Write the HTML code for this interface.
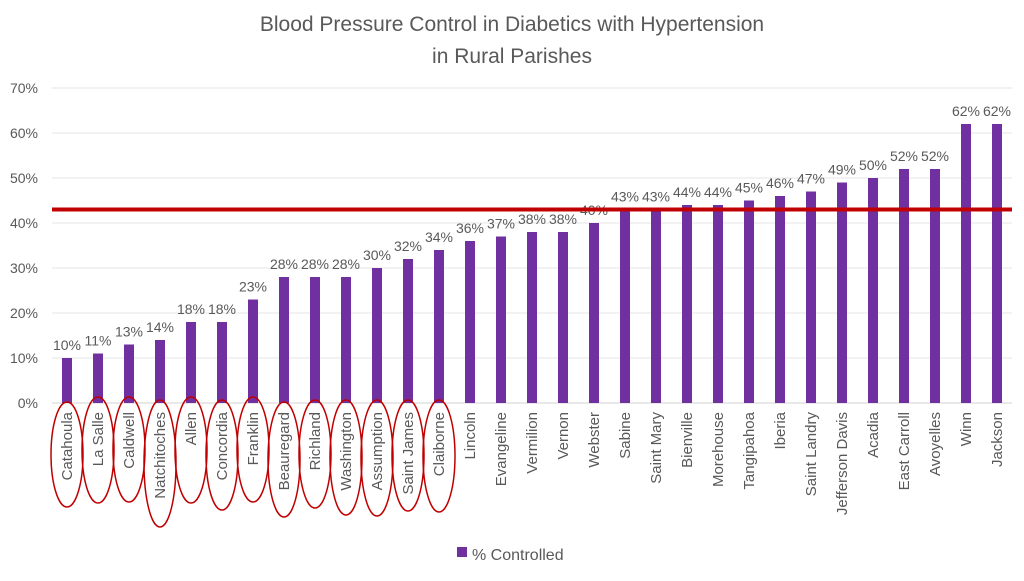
<!DOCTYPE html>
<html><head><meta charset="utf-8"><style>
body{margin:0;background:#fff;font-family:"Liberation Sans",sans-serif}
svg text{font-family:"Liberation Sans",sans-serif;fill:#595959}
</style></head><body>
<svg width="1024" height="576" id="c">
<text x="512" y="31" text-anchor="middle" font-size="21">Blood Pressure Control in Diabetics with Hypertension</text>
<text x="512" y="63" text-anchor="middle" font-size="21">in Rural Parishes</text>
<g id="grid"></g><g id="bars"></g><g id="ovals"></g>
<rect x="457" y="547" width="10" height="10" fill="#7030a0"/>
<text x="472" y="560" font-size="16">% Controlled</text>
</svg>
<script>
const categories=["Catahoula","La Salle","Caldwell","Natchitoches","Allen","Concordia","Franklin","Beauregard","Richland","Washington","Assumption","Saint James","Claiborne","Lincoln","Evangeline","Vermilion","Vernon","Webster","Sabine","Saint Mary","Bienville","Morehouse","Tangipahoa","Iberia","Saint Landry","Jefferson Davis","Acadia","East Carroll","Avoyelles","Winn","Jackson"];
const values=[10,11,13,14,18,18,23,28,28,28,30,32,34,36,37,38,38,40,43,43,44,44,45,46,47,49,50,52,52,62,62];
const yTicks=[0,10,20,30,40,50,60,70];
const target=[43];
const circled=[["Catahoula",402,507],["La Salle",397,503],["Caldwell",397,502],["Natchitoches",400,527],["Allen",397,503],["Concordia",400,510],["Franklin",397,502],["Beauregard",402,517],["Richland",400,508],["Washington",400,515],["Assumption",400,516],["Saint James",400,511],["Claiborne",400,512]];
const NS="http://www.w3.org/2000/svg";
const y=v=>403-v*4.5, x=i=>67+i*31;
function mk(t,a,p){const e=document.createElementNS(NS,t);for(const k in a)e.setAttribute(k,a[k]);p.appendChild(e);return e;}
const g=document.getElementById('grid'),b=document.getElementById('bars'),o=document.getElementById('ovals');
yTicks.forEach(v=>{
 const l=mk('line',{x1:52,x2:1012,y1:y(v),y2:y(v),stroke:v?'#e6e6e6':'#d0d0d0'},g);
 
 
 const t=mk('text',{x:38,y:y(v)+5,'text-anchor':'end','font-size':14},g);t.textContent=v+'%';
 
 
});
values.forEach((v,i)=>{
 const r=mk('rect',{x:x(i)-5,y:y(v),width:10,height:v*4.5,fill:'#7030a0'},b);
 
 
 const t=mk('text',{x:x(i),y:y(v)-8,'text-anchor':'middle','font-size':14},b);t.textContent=v+'%';
 
 
 const c=mk('text',{transform:`translate(${x(i)+5},412) rotate(-90)`,'text-anchor':'end','font-size':15},b);c.textContent=categories[i];
 
 
});
const tl=mk('line',{x1:52,x2:1012,y1:y(target[0]),y2:y(target[0]),stroke:'#c00000','stroke-width':4},b);


circled.forEach(([n,t,bt])=>{
 const i=categories.indexOf(n);
 const e=mk('ellipse',{cx:x(i),cy:(t+bt)/2,rx:16,ry:(bt-t)/2,fill:'none',stroke:'#c00000','stroke-width':1.5},o);
 
 
});
</script>
</body></html>
